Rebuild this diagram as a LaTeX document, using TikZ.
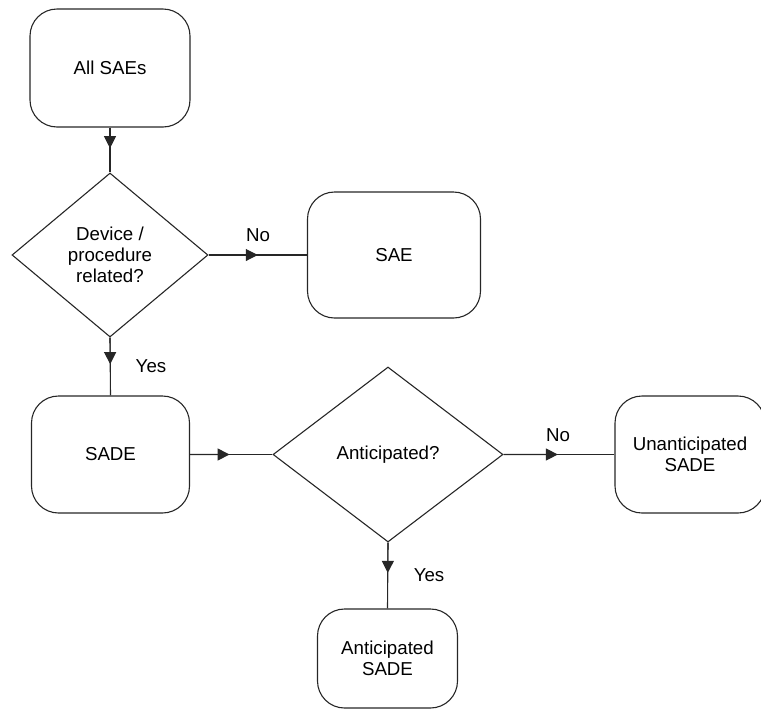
\documentclass[tikz,border=0pt]{standalone}
\usepackage{fontspec}
\setmainfont{Liberation Sans}
\usetikzlibrary{shapes.geometric,arrows.meta,calc}
\tikzset{
  box/.style={draw=black!85, line width=1.1pt, rounded corners=27pt, inner sep=0pt, align=center, font=\fontsize{18.7}{21}\selectfont},
  dia/.style={draw=black!85, line width=1.1pt, shape=diamond, inner sep=0pt, align=center, font=\fontsize{18.7}{21}\selectfont},
  conn/.style={draw=black!85, line width=1.1pt},
  tip/.style={draw=black!85, line width=1.1pt, -{Triangle[length=12pt,width=12pt]}},
  lbl/.style={font=\fontsize{18.7}{21}\selectfont, inner sep=0pt}
}
\begin{document}
\begin{tikzpicture}[x=1pt,y=-1pt]
\useasboundingbox (0,0) rectangle (761,710);
\node[box, minimum width=160pt, minimum height=118pt] (all) at (110,68) {All SAEs};
\node[dia, minimum width=196pt, minimum height=164pt] (d1) at (110,255) {Device /\\procedure\\related?};
\node[box, minimum width=173pt, minimum height=126pt] (sae) at (394,255) {SAE};
\node[box, minimum width=158pt, minimum height=117pt] (sade) at (110.5,454.5) {SADE};
\node[dia, minimum width=230pt, minimum height=175pt] (d2) at (388,454.5) {Anticipated?};
\node[box, minimum width=150pt, minimum height=117pt] (unant) at (690,454.5) {Unanticipated\\SADE};
\node[box, minimum width=140pt, minimum height=99pt] (ant) at (387.5,658.5) {Anticipated\\SADE};

\draw[conn] (all.south) -- (d1.north);
\draw[tip] (all.south) -- ($(all.south)!0.46!(d1.north)$);

\draw[conn] (d1.east) -- (sae.west);
\draw[tip] (d1.east) -- ($(d1.east)!0.5!(sae.west)$);
\node[lbl] (no1) at (258,235) {No};

\draw[conn] (d1.south) -- (sade.north);
\draw[tip] (d1.south) -- ($(d1.south)!0.46!(sade.north)$);
\node[lbl] (yes1) at (151,366) {Yes};

\draw[conn] (sade.east) -- (d2.west);
\draw[tip] (sade.east) -- ($(sade.east)!0.48!(d2.west)$);

\draw[conn] (d2.east) -- (unant.west);
\draw[tip] (d2.east) -- ($(d2.east)!0.49!(unant.west)$);
\node[lbl] (no2) at (558,435) {No};

\draw[conn] (d2.south) -- (ant.north);
\draw[tip] (d2.south) -- ($(d2.south)!0.46!(ant.north)$);
\node[lbl] (yes2) at (429,575) {Yes};
\end{tikzpicture}
\end{document}
